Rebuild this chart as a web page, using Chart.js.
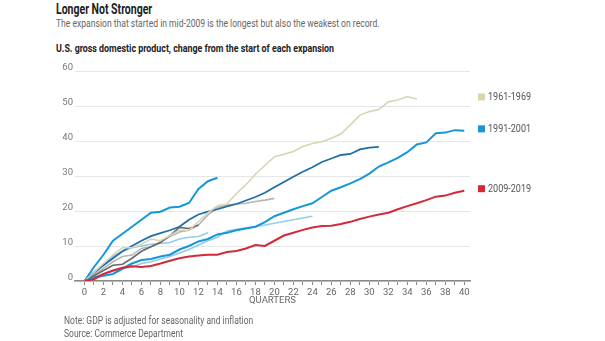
<!DOCTYPE html>
<html>
<head>
<meta charset="utf-8">
<script src="https://cdn.jsdelivr.net/npm/chart.js@4"></script>
<style>
  body { margin: 0; background: #fff; font-family: "Roboto", sans-serif; }
  #wrap { position: relative; width: 605px; height: 341px; overflow: hidden; }
  #chart { position: absolute; left: 0; top: 0; }
  .txt { position: absolute; white-space: nowrap; transform-origin: 0 0; }
  #title { left: 56px; top: 1px; font-size: 14px; font-weight: bold; color: #222; transform: scaleX(0.75); }
  #sub { left: 56px; top: 16px; font-size: 11.5px; color: #666; transform: scaleX(0.745); }
  #label { left: 56px; top: 42px; font-size: 11px; font-weight: bold; color: #222; transform: scaleX(0.805); }
  #note { left: 64px; top: 315px; font-size: 10px; color: #666; transform: scaleX(0.85); }
  #source { left: 64px; top: 328px; font-size: 10px; color: #666; transform: scaleX(0.85); }
</style>
</head>
<body>
<div id="wrap">
  <div class="txt" id="title">Longer Not Stronger</div>
  <div class="txt" id="sub">The expansion that started in mid-2009 is the longest but also the weakest on record.</div>
  <div class="txt" id="label">U.S. gross domestic product, change from the start of each expansion</div>
  <canvas id="chart" width="605" height="341"></canvas>
  <div class="txt" id="note">Note: GDP is adjusted for seasonality and inflation</div>
  <div class="txt" id="source">Source: Commerce Department</div>
</div>
<script>
// quarters since start of expansion
const quarters = [];
for (let q = 0; q <= 40; q++) quarters.push(q);
const xTicks = quarters;
const yTicks = [0, 10, 20, 30, 40, 50, 60];

// % change in GDP from the start of each expansion, by quarter
const exp1961 = [0, 2.5, 5, 7.5, 9.5, 9.5, 10.5, 12, 11.5, 13, 14.5, 14.5, 17, 19.5, 21.5, 22, 25, 27.5, 30.5, 33, 35.5,
  36.2, 37, 38.4, 39.3, 39.8, 40.8, 42, 44.6, 47.4, 48.4, 49, 51.2, 51.7, 52.7, 52];
const exp1991 = [0, 1, 1.5, 2, 3.5, 5, 6, 6.3, 7, 7.5, 9, 10, 11.3, 12, 13.3, 13.8, 14.5, 15, 15.5, 16.8, 18.5,
  19.5, 20.5, 21.4, 22.2, 24, 25.8, 26.8, 27.9, 29.1, 30.7, 32.7, 33.9, 35.2, 36.8, 39, 39.6, 42.2, 42.4, 43.1, 42.9];
const exp2009 = [0, 0.5, 2, 3, 3.8, 4.2, 4, 4.3, 5, 5.8, 6.5, 7, 7.3, 7.5, 7.5, 8.3, 8.6, 9.3, 10.3, 10, 11.5,
  13, 13.8, 14.6, 15.3, 15.7, 15.8, 16.3, 16.9, 17.7, 18.4, 19, 19.5, 20.5, 21.4, 22.2, 23.1, 24.1, 24.4, 25.2, 25.8];
const exp1982 = [0, 2.5, 4.5, 6.5, 8.5, 10, 11.5, 12.8, 13.7, 14.5, 15.5, 17.5, 19, 19.8, 20.5, 21.3, 22, 23, 24, 25.2, 26.8,
  28.3, 29.8, 31.2, 32.5, 34, 35, 36, 36.3, 37.6, 38.1, 38.3];
const exp1949 = [0, 4, 7.5, 11.5, 13.5, 15.5, 17.5, 19.5, 19.8, 21, 21.2, 22.3, 26.3, 28.5, 29.5];
const exp1975 = [0, 1.8, 3.6, 5.5, 7, 7.4, 9.3, 9.8, 11.2, 12.7, 14, 14.5, 16, 18.9, 21, 21.7, 22, 22.2, 22.7, 23.1, 23.6];
const exp2001 = [0, 1.2, 2, 2.8, 3.5, 4, 5, 5.5, 6.3, 7, 8, 9, 10.3, 11.5, 12.5, 14.3, 14.8, 15.2, 15.5, 16, 16.5,
  17, 17.5, 18, 18.5];
const exp1970 = [0, 1.5, 3, 4.5, 4.8, 6.5, 8.5, 9.8, 11, 13, 15.3, 15, 16];
const exp1954 = [0, 2, 4.5, 7, 8.5, 9.5, 10, 10.5, 10.7, 11, 12, 12.5, 12.7, 13.8];

// series shown with a direct label at the right
const labelled = ["1961-1969", "1991-2001", "2009-2019"];

function pts(arr) {
  return arr.map(function (v, i) { return { x: quarters[i], y: v }; });
}

function ds(name, arr, color, width) {
  return {
    label: name,
    data: pts(arr),
    borderColor: color,
    backgroundColor: color,
    borderWidth: width,
    pointRadius: 0,
    tension: 0,
    fill: false
  };
}

// first dataset is drawn on top
const datasets = [
  ds("2009-2019", exp2009, "#d42a38", 2),
  ds("1991-2001", exp1991, "#1597d8", 2),
  ds("1961-1969", exp1961, "#d9d4b3", 1.6),
  ds("1982-1990", exp1982, "#1f6ea6", 1.8),
  ds("1949-1953", exp1949, "#1597d8", 2),
  ds("1970-1973", exp1970, "#6a6a6a", 1.6),
  ds("1975-1980", exp1975, "#b5b5b5", 1.6),
  ds("1954-1957", exp1954, "#93cbeb", 1.6),
  ds("2001-2007", exp2001, "#93cbeb", 1.6)
];

// direct labels at the end of highlighted lines
const endLabels = {
  id: "endLabels",
  afterDatasetsDraw: function (chart) {
    const ctx = chart.ctx;
    const ys = chart.scales.y;
    ctx.save();
    ctx.font = "10.5px Roboto, sans-serif";
    ctx.textBaseline = "middle";
    chart.data.datasets.forEach(function (d) {
      if (labelled.indexOf(d.label) < 0) return;
      const last = d.data[d.data.length - 1].y;
      const y = ys.getPixelForValue(last) - 2;
      const x = chart.chartArea.right + 8;
      ctx.fillStyle = d.borderColor;
      ctx.fillRect(x, y - 3.5, 7, 7);
      ctx.fillStyle = "#555";
      ctx.save();
      ctx.translate(x + 10, y + 0.5);
      ctx.scale(0.86, 1);
      ctx.fillText(d.label, 0, 0);
      ctx.restore();
    });
    ctx.restore();
  }
};

new Chart(document.getElementById("chart"), {
  type: "line",
  data: { datasets: datasets },
  plugins: [endLabels],
  options: {
    responsive: false,
    animation: false,
    layout: { padding: { left: 60, right: 135, top: 71, bottom: 35 } },
    plugins: { legend: { display: false }, tooltip: { enabled: false } },
    scales: {
      x: {
        type: "linear",
        min: -1,
        max: 40.6,
        afterBuildTicks: function (s) {
          s.ticks = xTicks.map(function (v) { return { value: v }; });
        },
        afterFit: function (s) { s.height = 25; },
        grid: { drawOnChartArea: false, drawTicks: true, tickLength: 4, color: "#888", lineWidth: 1 },
        border: { display: true, color: "#888", width: 1.5 },
        ticks: {
          autoSkip: false,
          maxRotation: 0,
          padding: 2,
          color: "#666",
          font: { family: "Roboto, sans-serif", size: 9.5 },
          callback: function (v) { return v % 2 === 0 ? String(v) : ""; }
        },
        title: {
          display: true,
          text: "QUARTERS",
          color: "#666",
          padding: 0,
          font: { family: "Roboto, sans-serif", size: 9.5 }
        }
      },
      y: {
        min: 0,
        max: 60,
        afterBuildTicks: function (s) {
          s.ticks = yTicks.map(function (v) { return { value: v }; });
        },
        afterFit: function (s) { s.width = 15; },
        grid: { color: "#e6e6e6", lineWidth: 1, drawTicks: false },
        border: { display: false },
        ticks: {
          padding: 2,
          labelOffset: -3,
          color: "#777",
          font: { family: "Roboto, sans-serif", size: 9.5 }
        }
      }
    }
  }
});
</script>
</body>
</html>
